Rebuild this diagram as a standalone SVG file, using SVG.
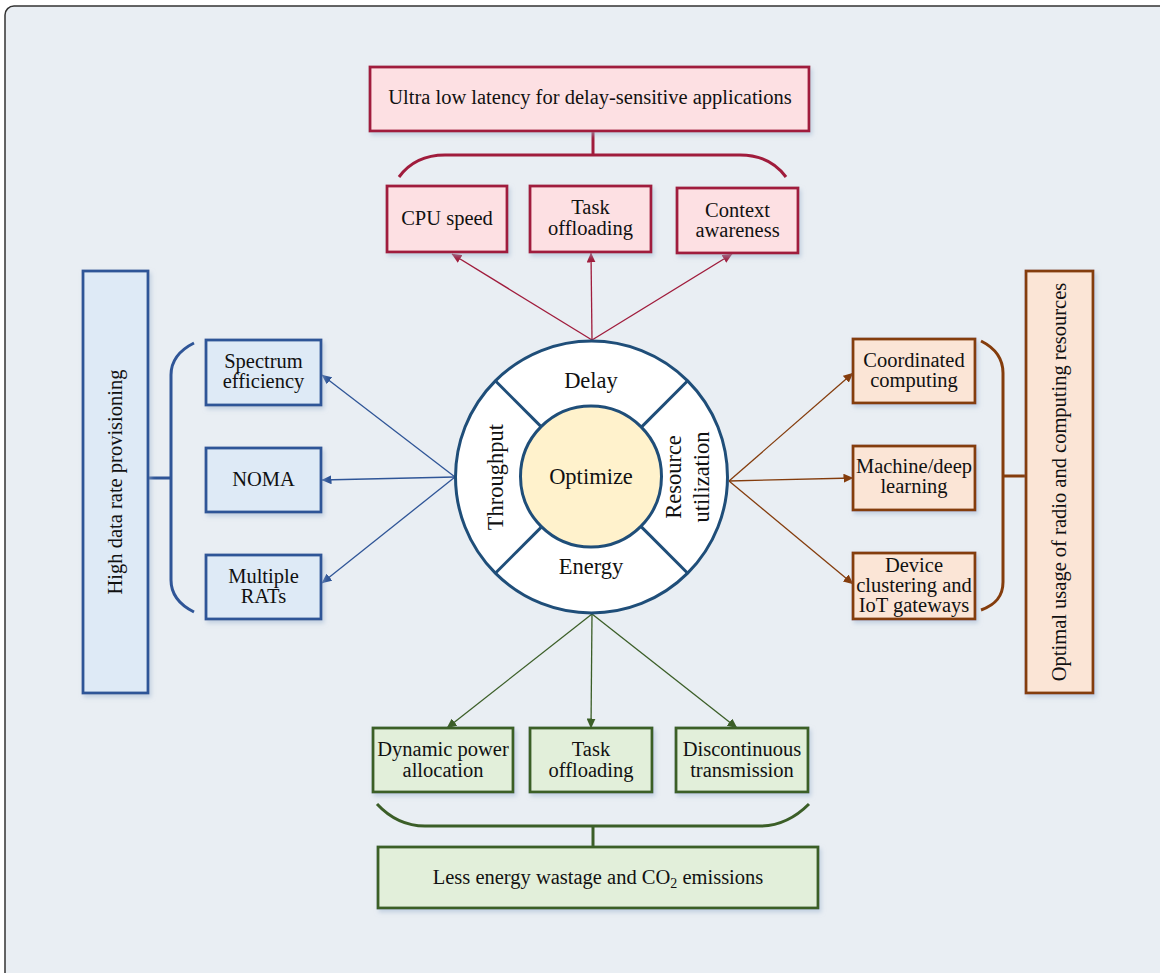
<svg xmlns="http://www.w3.org/2000/svg" width="1160" height="973" viewBox="0 0 1160 973">
<defs>
<style>
text{font-family:"Liberation Serif","Times New Roman",serif;font-size:20.5px;fill:#111;text-anchor:middle}
.c{font-size:22.5px}
.red{fill:#FDE0E3;stroke:#A01C3C;stroke-width:2.8}
.blue{fill:#DEEAF6;stroke:#2F5597;stroke-width:2.8}
.brown{fill:#FBE5D6;stroke:#843C0C;stroke-width:2.8}
.green{fill:#E2EFDA;stroke:#3B5E27;stroke-width:2.8}
.br{fill:none;stroke-width:3}
.ar{fill:none;stroke-width:1.3}
</style>
<filter id="sh" x="-10%" y="-10%" width="130%" height="130%">
<feDropShadow dx="2" dy="3" stdDeviation="2" flood-color="#9DB3CF" flood-opacity="0.5"/>
</filter>
<marker id="mr" markerWidth="10" markerHeight="9" refX="9.5" refY="4.5" orient="auto" markerUnits="userSpaceOnUse"><path d="M0,0 L10,4.5 L0,9 Z" fill="#A01C3C"/></marker>
<marker id="mb" markerWidth="10" markerHeight="9" refX="9.5" refY="4.5" orient="auto" markerUnits="userSpaceOnUse"><path d="M0,0 L10,4.5 L0,9 Z" fill="#2F5597"/></marker>
<marker id="mo" markerWidth="10" markerHeight="9" refX="9.5" refY="4.5" orient="auto" markerUnits="userSpaceOnUse"><path d="M0,0 L10,4.5 L0,9 Z" fill="#843C0C"/></marker>
<marker id="mg" markerWidth="10" markerHeight="9" refX="9.5" refY="4.5" orient="auto" markerUnits="userSpaceOnUse"><path d="M0,0 L10,4.5 L0,9 Z" fill="#3B5E27"/></marker>
</defs>
<rect width="1160" height="973" fill="#FFFFFF"/>
<rect x="5" y="6" width="1175" height="990" rx="9" fill="#E9EEF3" stroke="#333" stroke-width="1.5"/>

<g id="connectors">
<g stroke="#A01C3C">
<path class="br" d="M399,177 C410,162 425,155 445,155 L740,155 C760,155 775,162 786,177"/>
<path class="br" d="M593,131 L593,155"/>
<line class="ar" x1="592" y1="340" x2="452" y2="254" marker-end="url(#mr)"/>
<line class="ar" x1="592" y1="340" x2="591" y2="253" marker-end="url(#mr)"/>
<line class="ar" x1="592" y1="340" x2="732" y2="254" marker-end="url(#mr)"/>
</g>
<g stroke="#2F5597">
<path class="br" d="M194,343 C180,350 171,360 171,375 L171,580 C171,595 180,605 194,612"/>
<path class="br" d="M148,478 L171,478"/>
<line class="ar" x1="455" y1="477" x2="322" y2="375" marker-end="url(#mb)"/>
<line class="ar" x1="455" y1="477" x2="322" y2="480" marker-end="url(#mb)"/>
<line class="ar" x1="455" y1="477" x2="322" y2="583" marker-end="url(#mb)"/>
</g>
<g stroke="#843C0C">
<path class="br" d="M981,341 C995,348 1003,358 1003,373 L1003,582 C1003,597 995,605 981,610"/>
<path class="br" d="M1003,476 L1026,476"/>
<line class="ar" x1="729" y1="481" x2="853" y2="373" marker-end="url(#mo)"/>
<line class="ar" x1="729" y1="481" x2="853" y2="478" marker-end="url(#mo)"/>
<line class="ar" x1="729" y1="481" x2="853" y2="584" marker-end="url(#mo)"/>
</g>
<g stroke="#3B5E27">
<path class="br" d="M377,804 C390,818 405,826 425,826 L760,826 C780,826 795,818 809,804"/>
<path class="br" d="M593,826 L593,847"/>
<line class="ar" x1="592" y1="614" x2="447" y2="728" marker-end="url(#mg)"/>
<line class="ar" x1="592" y1="614" x2="591" y2="728" marker-end="url(#mg)"/>
<line class="ar" x1="592" y1="614" x2="737" y2="728" marker-end="url(#mg)"/>
</g>
</g>

<g id="center">
<circle cx="591.5" cy="477" r="136" fill="#FFFFFF" stroke="#1F4E79" stroke-width="3"/>
<g stroke="#1F4E79" stroke-width="3">
<line x1="495.3" y1="380.8" x2="541.6" y2="427.1"/>
<line x1="687.7" y1="380.8" x2="641.4" y2="427.1"/>
<line x1="495.3" y1="573.2" x2="541.6" y2="526.9"/>
<line x1="687.7" y1="573.2" x2="641.4" y2="526.9"/>
</g>
<circle cx="591" cy="476.5" r="70.5" fill="#FFF2CC" stroke="#1F4E79" stroke-width="3"/>
<text class="c" x="591" y="484">Optimize</text>
<text class="c" x="591" y="388">Delay</text>
<text class="c" x="591" y="574">Energy</text>
<text class="c" transform="translate(503,477) rotate(-90)">Throughput</text>
<text class="c" transform="translate(681,477) rotate(-90)">Resource</text>
<text class="c" transform="translate(709,477) rotate(-90)">utilization</text>
</g>

<g id="top-goal"><rect class="red" filter="url(#sh)" x="370" y="67" width="439" height="64"/><text x="590" y="104">Ultra low latency for delay-sensitive applications</text></g>
<g id="cpu-speed"><rect class="red" filter="url(#sh)" x="387" y="186" width="120" height="66"/><text x="447" y="225">CPU speed</text></g>
<g id="task-offloading-top"><rect class="red" filter="url(#sh)" x="530" y="186" width="121" height="66"/><text x="590.5" y="214">Task</text><text x="590.5" y="235">offloading</text></g>
<g id="context-awareness"><rect class="red" filter="url(#sh)" x="677" y="188" width="121" height="65"/><text x="737.5" y="217">Context</text><text x="737.5" y="237">awareness</text></g>

<g id="left-goal"><rect class="blue" filter="url(#sh)" x="83" y="271" width="65" height="422"/><text transform="translate(122,482) rotate(-90)">High data rate provisioning</text></g>
<g id="spectrum"><rect class="blue" filter="url(#sh)" x="206" y="340" width="115" height="65"/><text x="263.5" y="368">Spectrum</text><text x="263.5" y="388">efficiency</text></g>
<g id="noma"><rect class="blue" filter="url(#sh)" x="206" y="448" width="115" height="64"/><text x="263.5" y="486">NOMA</text></g>
<g id="rats"><rect class="blue" filter="url(#sh)" x="206" y="555" width="115" height="64"/><text x="263.5" y="583">Multiple</text><text x="263.5" y="603">RATs</text></g>

<g id="right-goal"><rect class="brown" filter="url(#sh)" x="1026" y="271" width="67" height="422"/><text transform="translate(1066,482) rotate(-90)">Optimal usage of radio and computing resources</text></g>
<g id="coordinated"><rect class="brown" filter="url(#sh)" x="853" y="339" width="122" height="64"/><text x="914" y="367">Coordinated</text><text x="914" y="387">computing</text></g>
<g id="machine"><rect class="brown" filter="url(#sh)" x="853" y="446" width="122" height="64"/><text x="914" y="473">Machine/deep</text><text x="914" y="493">learning</text></g>
<g id="device"><rect class="brown" filter="url(#sh)" x="853" y="553" width="122" height="66"/><text x="914" y="572">Device</text><text x="914" y="592">clustering and</text><text x="914" y="612">IoT gateways</text></g>

<g id="dynamic-power"><rect class="green" filter="url(#sh)" x="373" y="728" width="140" height="64"/><text x="443" y="756">Dynamic power</text><text x="443" y="777">allocation</text></g>
<g id="task-offloading-bottom"><rect class="green" filter="url(#sh)" x="530" y="728" width="122" height="64"/><text x="591" y="756">Task</text><text x="591" y="777">offloading</text></g>
<g id="discontinuous"><rect class="green" filter="url(#sh)" x="676" y="728" width="132" height="64"/><text x="742" y="756">Discontinuous</text><text x="742" y="777">transmission</text></g>
<g id="bottom-goal"><rect class="green" filter="url(#sh)" x="378" y="847" width="440" height="61"/><text x="598" y="884">Less energy wastage and CO<tspan font-size="14" dy="4">2</tspan><tspan dy="-4"> emissions</tspan></text></g>
</svg>
